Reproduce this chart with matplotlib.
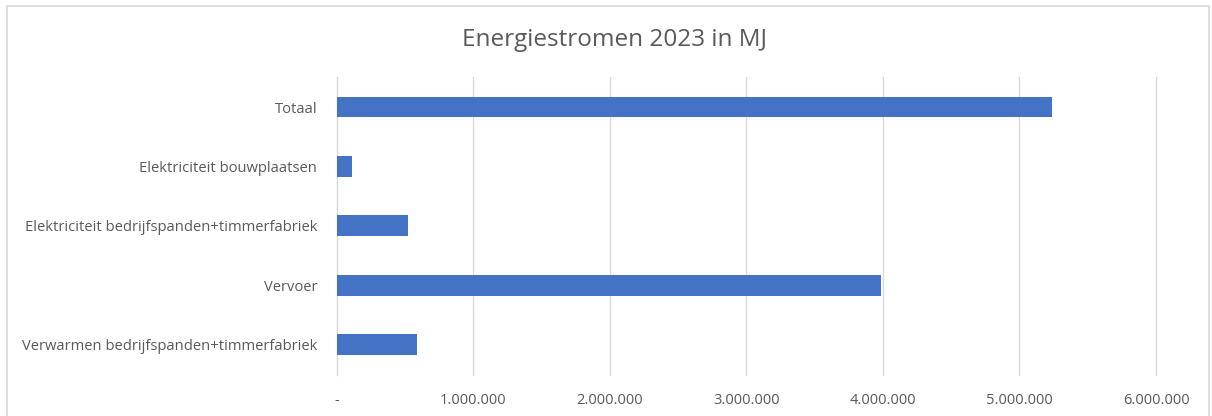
import matplotlib
matplotlib.use("Agg")
import matplotlib.pyplot as plt
from matplotlib.ticker import FuncFormatter, MultipleLocator
from matplotlib.patches import Rectangle

title = "Energiestromen 2023 in MJ"
categories = [
    "Totaal",
    "Elektriciteit bouwplaatsen",
    "Elektriciteit bedrijfspanden+timmerfabriek",
    "Vervoer",
    "Verwarmen bedrijfspanden+timmerfabriek",
]
values = [5240000, 112000, 527000, 3985000, 591000]
x_max = 6000000
x_step = 1000000

plt.rcParams['font.family'] = ['Open Sans', 'DejaVu Sans']

fig = plt.figure(figsize=(12.12, 4.16), dpi=100)
fig.patch.set_facecolor("white")

# chart border
fig.add_artist(Rectangle((7/1212, -0.05), (1209-7)/1212, 1 - 6/416 + 0.05,
                         transform=fig.transFigure, fill=False,
                         edgecolor="#d9d9d9", linewidth=1.2))

top_px, bot_px = 77.3, 374.5
ax = fig.add_axes([336.5/1212, 1 - bot_px/416, (1156-336.5)/1212, (bot_px-top_px)/416])
ypos = list(range(len(categories)))
ax.barh(ypos, values, height=0.35, color="#4472C4", zorder=3)
ax.set_ylim(len(categories) - 0.5, -0.5)
ax.set_xlim(0, x_max)
ax.set_yticks(ypos)
ax.set_yticklabels(categories, fontsize=10.6, color="#595959")
ax.xaxis.set_major_locator(MultipleLocator(x_step))

def fmt(v, pos):
    if abs(v) < 1:
        return "-"
    return f"{int(round(v)):,}".replace(",", ".")

ax.xaxis.set_major_formatter(FuncFormatter(fmt))
ax.tick_params(axis="x", labelsize=10.5, colors="#595959", length=0, pad=13)
ax.tick_params(axis="y", length=0, pad=14)
ax.grid(axis="x", color="#d9d9d9", linewidth=1, zorder=0)
for gl in ax.get_xgridlines():
    gl.set_clip_on(False)
for s in ["top", "right", "bottom"]:
    ax.spines[s].set_visible(False)
ax.spines["left"].set_color("#d9d9d9")
ax.spines["left"].set_zorder(1)

fig.text(615/1212, 1 - 40/416, title, ha="center", va="center",
         fontsize=17.5, color="#595959")

fig.savefig("out.png", dpi=100, facecolor="white")
